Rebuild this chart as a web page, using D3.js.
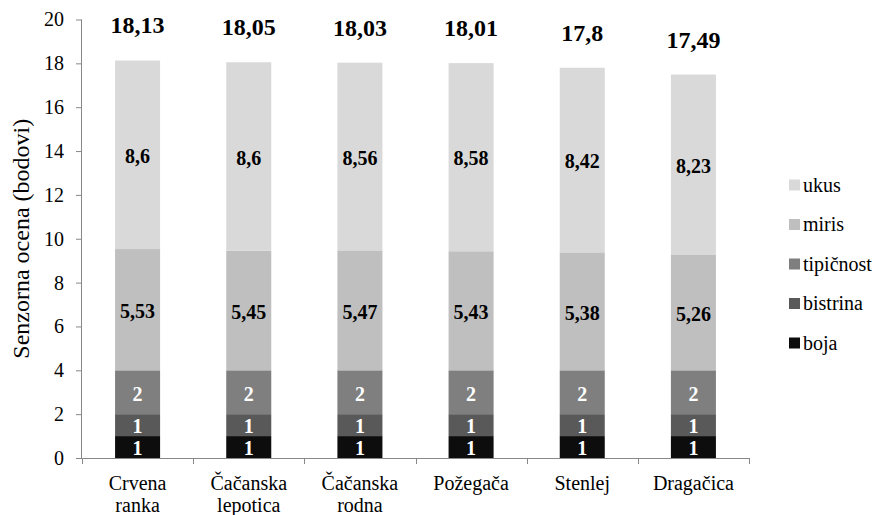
<!DOCTYPE html>
<html><head><meta charset="utf-8">
<script src="https://cdn.jsdelivr.net/npm/d3@7"></script>
<style>body{margin:0;background:#fff}svg{display:block}</style>
</head><body>
<svg id="chart" width="882" height="515"></svg>
<script>
const categories = [["Crvena","ranka"],["Čačanska","lepotica"],["Čačanska","rodna"],["Požegača"],["Stenlej"],["Dragačica"]];
const seriesNames = ["boja","bistrina","tipičnost","miris","ukus"];
const boja      = [1,1,1,1,1,1];
const bistrina  = [1,1,1,1,1,1];
const tipicnost = [2,2,2,2,2,2];
const miris     = [5.53,5.45,5.47,5.43,5.38,5.26];
const ukus      = [8.6,8.6,8.56,8.58,8.42,8.23];
const totals    = [18.13,18.05,18.03,18.01,17.8,17.49];
const yTicks    = [0,2,4,6,8,10,12,14,16,18,20];
const colors    = ["#0d0d0d","#595959","#7f7f7f","#bfbfbf","#d9d9d9"];
const labelColors = ["#fff","#fff","#fff","#000","#000"];
const seriesValues = [boja,bistrina,tipicnost,miris,ukus];

const FONT = '"Liberation Serif", Tinos, Times';
const fmt = v => String(v).replace(".", ",");
const svg = d3.select("#chart");
const keys = categories.map(c => c.join(" "));
const x0 = 82, x1 = 749, yBottom = 458, yTop = 19.5;

const xBand = d3.scaleBand().domain(keys).range([x0, x1]).paddingInner(0.595).paddingOuter(0.2975);
const xOuter = d3.scaleBand().domain(keys).range([x0, x1]).padding(0);
const y = d3.scaleLinear().domain([0, 20]).range([yBottom, yTop]);

const rows = keys.map((k, i) => {
  const r = {key: k};
  seriesNames.forEach((s, j) => r[s] = seriesValues[j][i]);
  return r;
});
const stacked = d3.stack().keys(seriesNames)(rows);

const g = svg.append("g");
stacked.forEach((layer, li) => {
  g.selectAll(null).data(layer).enter().append("rect")
    .attr("x", d => xBand(d.data.key))
    .attr("width", xBand.bandwidth())
    .attr("y", d => y(d[1]))
    .attr("height", d => y(d[0]) - y(d[1]))
    .attr("fill", colors[li]);
  g.selectAll(null).data(layer).enter().append("text")
    .attr("x", d => xBand(d.data.key) + xBand.bandwidth()/2)
    .attr("y", d => (y(d[0]) + y(d[1]))/2 + 1.5)
    .attr("dy", "0.34em")
    .attr("text-anchor", "middle")
    .style("font-family", FONT)
    .attr("font-weight", "bold")
    .attr("font-size", 20)
    .attr("fill", labelColors[li])
    .text(d => fmt(d.data[seriesNames[li]]));
});

// totals
g.selectAll(null).data(keys).enter().append("text")
  .attr("x", k => xBand(k) + xBand.bandwidth()/2)
  .attr("y", (k, i) => y(totals[i]) - 27)
  .attr("text-anchor", "middle")
  .style("font-family", FONT)
  .attr("font-weight", "bold")
  .attr("font-size", 24)
  .attr("fill", "#000")
  .text((k, i) => fmt(totals[i]));

// y axis
const yAxis = svg.append("g").attr("transform", `translate(${x0},0)`)
  .call(d3.axisLeft(y).tickValues(yTicks).tickSize(6).tickPadding(12).tickFormat(d => d));
yAxis.selectAll("path,line").attr("stroke", "#888");
yAxis.select(".domain").attr("d", `M-0.5,${yBottom}V${yTop}`).attr("stroke","#888");
yAxis.selectAll("text").attr("font-size", 20).attr("fill", "#000").style("font-family", FONT);

// x axis
const xa = svg.append("g");
xa.append("line").attr("x1", x0).attr("x2", x1).attr("y1", yBottom + 0.5).attr("y2", yBottom + 0.5).attr("stroke", "#888");
const bounds = keys.map(k => xOuter(k)).concat([x1]);
xa.selectAll(null).data(bounds).enter().append("line")
  .attr("x1", d => Math.round(d) + 0.5).attr("x2", d => Math.round(d) + 0.5)
  .attr("y1", yBottom).attr("y2", yBottom + 6).attr("stroke", "#888");
const xl = xa.selectAll(null).data(categories).enter().append("text")
  .attr("x", (c, i) => xOuter(keys[i]) + xOuter.bandwidth()/2)
  .attr("y", 490)
  .attr("text-anchor", "middle")
  .style("font-family", FONT)
  .attr("font-size", 20)
  .attr("fill", "#000");
xl.each(function(c) {
  const t = d3.select(this);
  c.forEach((line, li) => t.append("tspan").attr("x", t.attr("x")).attr("dy", li === 0 ? 0 : 22).text(line));
});

// y title
svg.append("text")
  .attr("transform", `translate(29,${(yTop + yBottom)/2}) rotate(-90)`)
  .attr("text-anchor", "middle")
  .style("font-family", FONT)
  .attr("font-size", 24)
  .attr("fill", "#000")
  .text("Senzorna ocena (bodovi)");

// legend
const legendOrder = [4,3,2,1,0];
const lg = svg.append("g");
legendOrder.forEach((si, i) => {
  const cy = 185 + i * 39.5;
  lg.append("rect").attr("x", 789).attr("y", cy - 5.5).attr("width", 11).attr("height", 11).attr("fill", colors[si]);
  lg.append("text").attr("x", 803).attr("y", cy).attr("dy", "0.33em")
    .style("font-family", FONT).attr("font-size", 20).attr("fill", "#000").text(seriesNames[si]);
});
</script>
</body></html>
